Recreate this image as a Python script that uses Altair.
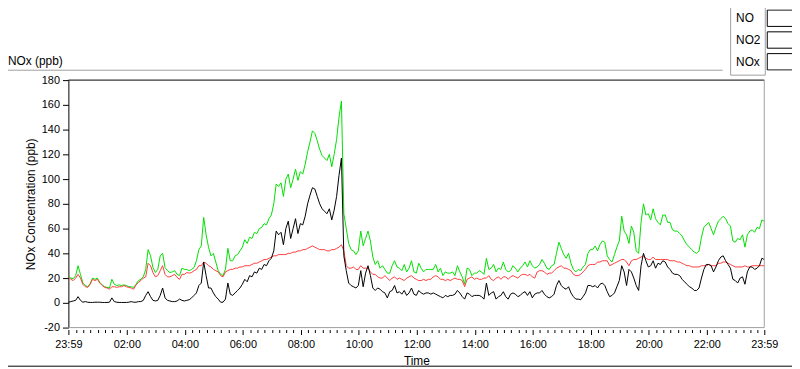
import altair as alt
import pandas as pd

# Sampling interval of the value lists below (minutes after 23:59 of the previous day)
STEP_MIN = 5

# NO (ppb), one row per hour, 5-minute samples
NO = [
    0.5, 1, 1.5, 2, 5, 2, 0.5, 1, 0.5, 0.3, 0.3, 0.5,
    0.5, 0.5, 0.3, 0.3, 0.3, 0.5, 4, 1, 0.5, 0.3, 0.3, 0.3,
    0.3, 0.5, 1, 0.5, 0.5, 1, 1, 2, 6, 9, 5, 2,
    1.5, 2, 6, 12, 4, 2, 1.5, 1, 1, 1.5, 3, 2,
    1.5, 2, 2.5, 4, 6, 8, 14, 16, 33, 22, 12, 12,
    8, 5, 3, 0.5, 0.5, 3, 16, 7, 6, 8, 10, 12,
    15, 19, 17, 22, 21, 25, 24, 28, 27, 31, 30, 34,
    36, 42, 58, 55, 57, 47, 60, 66, 52, 60, 68, 56,
    64, 63, 70, 80, 87, 93, 92, 86, 80, 76, 74, 72,
    76, 67, 75, 86, 103, 117, 38, 26, 16, 14, 13, 12,
    14, 26, 13, 24, 30, 22, 12, 10, 12, 11, 9, 8,
    4, 9, 10, 14, 8, 9, 7, 10, 6, 8, 12, 7,
    6, 10, 8, 7, 8, 8, 7, 8, 7, 6, 5, 4,
    6, 5, 6, 6, 7, 10, 8, 5, 3, 8, 7, 5,
    6, 6, 6, 5, 3, 16, 6, 8, 9, 3, 5, 6,
    9, 5, 3, 7, 8, 7, 5, 6, 8, 9, 6, 9,
    4, 7, 8, 8, 10, 7, 5, 4, 5, 7, 14, 18,
    14, 12, 11, 13, 8, 5, 3, 3, 2.5, 5, 8, 14,
    14, 13, 14, 12, 15, 16, 14, 9, 5, 6, 8, 13,
    18, 30, 25, 14, 27, 25, 20, 14, 10, 30, 40, 34,
    29, 30, 34, 28, 32, 31, 34, 33, 29, 27, 24, 23,
    23, 22, 19, 17, 15, 13, 12, 10, 10, 12, 20, 27,
    31, 31, 30, 25, 29, 34, 37, 38, 34, 31, 28, 19,
    18, 16, 20, 21, 15, 25, 29, 29, 27, 28, 30, 36,
    35,
]

# NO2 (ppb)
NO2 = [
    21, 19, 18, 20, 23, 20, 15, 13, 12.5, 15, 19, 18,
    19, 16, 14, 12.5, 12, 11, 13, 13, 12.5, 13, 13, 14,
    13, 12.5, 12, 11, 14.5, 16.5, 18, 20, 21, 32, 30, 24.5,
    21, 22, 26, 30, 23, 21, 21, 22, 23, 20.5, 19, 23,
    23, 24.5, 24, 24.5, 26, 27, 30, 30, 33, 32, 30, 29,
    27, 26, 25, 22, 21, 25, 26, 27, 27, 28, 28, 29,
    29, 30, 30, 30, 31, 32, 32, 33, 34, 35, 35, 36,
    37, 38, 38, 39, 39, 39, 39, 40, 40, 41, 41, 42,
    42, 43, 43, 44, 45, 46, 45, 44, 43, 43, 43, 42,
    42, 43, 43, 44, 45, 47, 42, 30, 28, 28, 29, 27,
    27, 30, 28, 28, 28, 25, 23, 23, 21, 20, 20, 22,
    20, 18, 20, 21, 19, 20, 19, 18, 20, 21, 22, 20,
    19, 18, 18, 19, 18, 19, 19, 21, 22, 21, 19, 19,
    18, 19, 18, 19, 20, 19, 19, 18, 13, 19, 20, 21,
    19, 20, 19, 19, 20, 20, 22, 19, 18, 20, 21, 19,
    21, 21, 19, 21, 22, 21, 20, 22, 23, 23, 22, 23,
    21, 20, 25, 26, 26, 25, 23, 24, 24, 26, 28, 29,
    30, 28, 28, 27, 26, 23, 22, 22, 23, 25, 27, 30,
    31, 31, 31, 33, 33, 34, 34, 34, 30, 31, 32, 33,
    34, 35, 35, 33, 30, 34, 35, 35, 36, 37, 38, 36,
    35, 35, 37, 35, 35, 35, 35, 35, 35, 34, 34, 34,
    33, 33, 32, 31, 30, 30, 29, 29, 29, 29, 30, 30,
    30, 31, 30, 30, 30, 32, 32, 33, 33, 32, 31, 30,
    29, 29, 29, 29, 30, 29, 29, 30, 30, 30, 30, 30,
    30,
]

# NOx (ppb)
NOX = [
    21.5, 20, 19.5, 22, 30, 23, 16, 14, 13, 15.5, 20, 19,
    20, 16.5, 14.5, 13, 12.5, 12, 19, 15, 14, 14.5, 14, 14.5,
    14, 13, 13, 12.5, 15, 18, 19, 21, 27, 43, 38, 28.5,
    24.5, 27, 38, 40, 28.5, 26, 24.5, 25, 26, 23, 22, 28,
    27, 27, 26, 27, 28.5, 34, 43, 46, 69, 55, 45, 38,
    40, 33, 26, 23, 22, 27, 44, 34, 34, 38, 39, 42,
    45, 51, 48, 53, 52, 57, 56, 60, 61, 64, 63, 68,
    71, 80, 96, 94, 97, 86, 100, 104, 93, 100, 108, 99,
    106, 104, 112, 122, 130, 139, 137, 131, 124, 119, 117, 115,
    120, 110, 120, 132, 150, 163, 72, 60, 48, 43, 42, 39,
    42, 58, 46, 52, 58, 50, 37, 31, 34, 28, 30, 27,
    24, 24, 30, 34, 29, 28, 26, 31, 25, 28, 34, 25,
    24, 32, 28, 25, 27, 27, 27, 27, 31, 25, 28, 22,
    25, 24, 24, 25, 22, 30, 25, 21, 15, 28, 27, 22,
    24, 24, 26, 25, 23, 36, 27, 28, 31, 25, 28, 27,
    33, 27, 25, 26, 30, 28, 25, 28, 30, 33, 29, 34,
    30, 28, 29, 31, 35, 32, 28, 27, 30, 31, 40, 49,
    44, 39, 36, 40, 32, 27, 25, 27, 26, 29, 31, 40,
    43, 43, 46, 42, 47, 50, 49, 38, 35, 33, 39, 45,
    50, 70, 58, 55, 48, 62, 57, 42, 40, 65, 80, 71,
    72, 67, 76, 68, 65, 63, 71, 71, 65, 65, 59, 58,
    58, 56, 54, 50, 47, 45, 43, 41, 40, 42, 53, 61,
    63, 65, 60, 55, 61, 66, 68, 70, 68, 64, 62, 50,
    49, 52, 51, 55, 45, 55, 58, 59, 57, 61, 60, 67,
    66,
]

SERIES = ["NO", "NO2", "NOx"]
BOX_KEYS = ["box_NO", "box_NO2", "box_NOx"]
COLORS = ["#000000", "#ff3c3c", "#00e000"]
DRAW_ORDER = ["NOx", "NO2", "NO"]

MAJOR_TICKS = [0, 121, 241, 361, 481, 601, 721, 841, 961, 1081, 1201, 1321, 1440]
MAJOR_LABELS = ["23:59", "02:00", "04:00", "06:00", "08:00", "10:00", "12:00",
                "14:00", "16:00", "18:00", "20:00", "22:00", "23:59"]
Y_TICKS = [-20, 0, 20, 40, 60, 80, 100, 120, 140, 160, 180]

FONT = "Liberation Sans"
GRAY = "#a0a0a0"
W, H = 703, 250

n = len(NO)
minutes = [i * STEP_MIN for i in range(n)]
df = pd.DataFrame({
    "t": minutes * 3,
    "value": NO + NO2 + NOX,
    "series": ["NO"] * n + ["NO2"] * n + ["NOx"] * n,
})

minor = [m for m in range(16, 1440, 15) if m not in MAJOR_TICKS]
all_ticks = sorted(set(MAJOR_TICKS + minor))
label_expr = "".join(f"datum.value == {v} ? '{l}' : " for v, l in zip(MAJOR_TICKS, MAJOR_LABELS)) + "''"
major_test = "indexof([" + ",".join(str(v) for v in MAJOR_TICKS) + "], datum.value) >= 0"

x_enc = alt.X(
    "t:Q", title="Time",
    scale=alt.Scale(domain=[0, 1440], nice=False, zero=False),
    axis=alt.Axis(
        values=all_ticks, labelExpr=label_expr, labelOverlap=False, labelFlush=False,
        grid=False, domain=False, offset=2, tickColor="black",
        tickSize={"condition": {"test": major_test, "value": 5}, "value": 3},
        labelPadding=4, labelFont=FONT, labelFontSize=11, labelColor="black",
        titleFont=FONT, titleFontSize=12, titleFontWeight="normal", titleColor="black",
        titleY=35, titleBaseline="alphabetic",
    ),
)
y_enc = alt.Y(
    "value:Q", title="NOx Concentration (ppb)",
    scale=alt.Scale(domain=[-20, 180], nice=False, zero=False),
    axis=alt.Axis(
        values=Y_TICKS, labelExpr="'' + datum.value", labelFlush=False, labelOverlap=False,
        grid=False, domainColor="black", tickColor="black", tickSize=6, labelPadding=3,
        labelFont=FONT, labelFontSize=11, labelColor="black",
        titleFont=FONT, titleFontSize=12, titleFontWeight="normal", titleColor="black",
        titleX=-34, titleY=H / 2, titleAngle=270, titleBaseline="alphabetic", titleAlign="center",
    ),
)

# legend symbols (unit = 16 px with symbolSize 1024): 30x16.5 box with a zigzag inside
ZIGZAG = "M-0.75,0.266L-0.3125,-0.297L0.25,0.266L0.78,-0.328"
BOX = "M-0.9375,-0.516L0.9375,-0.516L0.9375,0.516L-0.9375,0.516Z"
LABEL_PAD = "\u00a0" * 16

common_legend = dict(
    orient="none", legendX=730 - 69 + 7.5, legendY=3.5 - 79, direction="vertical", title=None,
    padding=4, rowPadding=4, clipHeight=18, symbolSize=1024, symbolStrokeWidth=1,
    symbolOffset=32, labelFont=FONT, labelFontSize=12, labelLimit=0,
    labelBaseline="middle", labelAlign="left",
)

# colour legend: white panel with labels and coloured zigzags
color_enc = alt.Color(
    "series:N", scale=alt.Scale(domain=SERIES, range=COLORS),
    legend=alt.Legend(symbolType=ZIGZAG, symbolFillColor="transparent", labelColor="black",
                      labelExpr=f"datum.label + '{LABEL_PAD}'",
                      labelOffset={"expr": "-63"}, fillColor="white", strokeColor=GRAY,
                      zindex=1, **common_legend),
)

layers = []
for s in DRAW_ORDER:
    layers.append(
        alt.Chart(df).transform_filter(alt.datum.series == s)
        .mark_line(strokeWidth=1, interpolate="linear")
        .encode(x=x_enc, y=y_enc, color=color_enc)
    )

# empty layer that only supplies the black boxes of the legend (transparent panel on top)
boxes = (
    alt.Chart(df).transform_filter("false").transform_calculate(box="'box_' + datum.series")
    .mark_point(filled=False, color="black")
    .encode(
        x=x_enc, y=y_enc,
        shape=alt.Shape("box:N", scale=alt.Scale(domain=BOX_KEYS, range=[BOX, BOX, BOX]),
                        legend=alt.Legend(symbolStrokeColor="black", symbolFillColor="transparent",
                                          symbolOpacity=1, labelExpr="''", labelOffset=0,
                                          zindex=2, **common_legend)),
    )
)

one = pd.DataFrame({"k": [0]})
frame_top = alt.Chart(one).mark_rule(color="black").encode(x=alt.value(0), x2=alt.value(W), y=alt.value(0))
frame_right = alt.Chart(one).mark_rule(color=GRAY).encode(x=alt.value(W), y=alt.value(0), y2=alt.value(H))
frame_bottom = alt.Chart(one).mark_rule(color=GRAY).encode(x=alt.value(0), x2=alt.value(W), y=alt.value(H))
outer_top = alt.Chart(one).mark_rule(color=GRAY).encode(x=alt.value(-61), x2=alt.value(661), y=alt.value(-10))
outer_bottom = alt.Chart(one).mark_rule(color="black").encode(x=alt.value(-61), x2=alt.value(731), y=alt.value(289))
title = alt.Chart(one).mark_text(
    text="NOx (ppb)", align="left", baseline="alphabetic", font=FONT, fontSize=12, color="black"
).encode(x=alt.value(-61), y=alt.value(-15))

chart = (
    alt.layer(boxes, *layers, frame_top, frame_right, frame_bottom, outer_top, outer_bottom, title)
    .properties(width=W, height=H, autosize="none",
                padding={"left": 61, "top": 71, "right": 28, "bottom": 40},
                background="white")
    .configure_view(stroke="transparent")
)

chart.save("out.html", embed_options={"renderer": "svg", "actions": False})
